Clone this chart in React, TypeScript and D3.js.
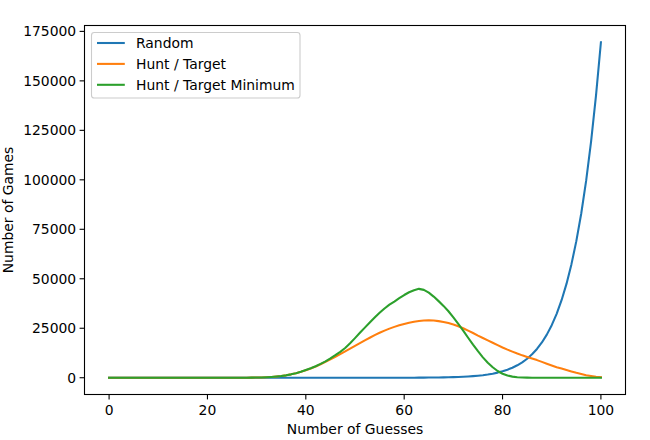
import React from "react";
import * as d3 from "d3";

const guesses: number[] = Array.from({ length: 101 }, (_, i) => i);

const randomGames: number[] = [
  0, 0, 0, 0, 0, 0, 0, 0, 0, 0,
  0, 0, 0, 0, 0, 0, 0, 0, 0, 0,
  0, 0, 0, 0, 0, 0, 0, 0, 0, 0,
  0, 0, 0, 0, 0, 0, 0, 0, 0, 0,
  0, 0, 0, 0, 0, 0, 0, 0, 0, 0,
  1, 1, 1, 2, 2, 3, 4, 6, 8, 11,
  16, 22, 30, 41, 55, 74, 98, 129, 169, 221,
  288, 373, 481, 619, 793, 1012, 1286, 1629, 2056, 2586,
  3243, 4053, 5051, 6276, 7775, 9605, 11832, 14536, 17812, 21770,
  26541, 32280, 39166, 47412, 57264, 69010, 82987, 99584, 119255, 142525,
  169500,
];

const huntTarget: number[] = [
  0, 0, 0, 0, 0, 0, 0, 0, 0, 0,
  0, 0, 0, 0, 0, 0, 0, 0, 0, 0,
  0, 0, 0, 0, 0, 0, 5, 10, 30, 60,
  100, 150, 250, 400, 600, 850, 1200, 1700, 2300, 3000,
  3800, 4700, 5700, 6800, 8000, 9300, 10600, 11900, 13300, 14700,
  16100, 17500, 18900, 20200, 21500, 22700, 23800, 24800, 25700, 26500,
  27200, 27800, 28300, 28700, 28900, 29000, 28900, 28600, 28200, 27600,
  26900, 26000, 25000, 23800, 22600, 21300, 20100, 18900, 17700, 16500,
  15300, 14200, 13200, 12200, 11300, 10500, 9700, 8900, 8000, 7100,
  6200, 5300, 4600, 3900, 3200, 2500, 1900, 1300, 900, 500,
  250,
];

const huntTargetMin: number[] = [
  0, 0, 0, 0, 0, 0, 0, 0, 0, 0,
  0, 0, 0, 0, 0, 0, 0, 0, 0, 0,
  0, 0, 0, 0, 0, 0, 5, 10, 30, 60,
  100, 150, 250, 400, 600, 850, 1200, 1700, 2300, 3000,
  3900, 4800, 5800, 7000, 8300, 9800, 11400, 13100, 15000, 17400,
  20000, 22700, 25300, 27900, 30400, 32800, 35000, 36900, 38500, 40200,
  41800, 43200, 44200, 44900, 44400, 43000, 41000, 38700, 36300, 33600,
  30500, 27200, 23800, 20200, 16700, 13400, 10300, 7600, 5300, 3400,
  2000, 1100, 550, 250, 100, 50, 20, 10, 5, 0,
  0, 0, 0, 0, 0, 0, 0, 0, 0, 0,
  0,
];

const seriesNames: string[] = ["Random", "Hunt / Target", "Hunt / Target Minimum"];
const seriesColors: string[] = ["#1f77b4", "#ff7f0e", "#2ca02c"];
const xTicks: number[] = [0, 20, 40, 60, 80, 100];
const yTicks: number[] = [0, 25000, 50000, 75000, 100000, 125000, 150000, 175000];

const W = 650;
const H = 440;
const L = 84.5;
const R = 625.5;
const T = 25.5;
const B = 394.5;
const FONT = "'DejaVu Sans', sans-serif";

export default function App() {
  const x = d3.scaleLinear().domain([-5, 105]).range([L, R]);
  const y = d3.scaleLinear().domain([-8475, 177975]).range([B, T]);
  const allSeries = [randomGames, huntTarget, huntTargetMin];
  const line = d3
    .line<number>()
    .x((_, i) => x(guesses[i]))
    .y((d) => y(d));

  return (
    <svg
      width={W}
      height={H}
      style={{ position: "absolute", left: 0, top: 0, background: "#fff" }}
      fontFamily={FONT}
    >
      <rect x={0} y={0} width={W} height={H} fill="#fff" />
      <defs>
        <clipPath id="plotclip">
          <rect x={L} y={T} width={R - L} height={B - T} />
        </clipPath>
      </defs>
      <g clipPath="url(#plotclip)">
        {allSeries.map((s, k) => (
          <path
            key={k}
            d={line(s) || ""}
            fill="none"
            stroke={seriesColors[k]}
            strokeWidth={2.08}
            strokeLinejoin="round"
            strokeLinecap="square"
          />
        ))}
      </g>
      <rect x={L} y={T} width={R - L} height={B - T} fill="none" stroke="#000" strokeWidth={1.1} />
      {xTicks.map((t) => (
        <g key={"x" + t}>
          <line x1={x(t)} x2={x(t)} y1={B} y2={B + 4.9} stroke="#000" strokeWidth={1.1} />
          <text x={x(t)} y={B + 20.5} textAnchor="middle" fontSize={13.9} fill="#000">
            {t}
          </text>
        </g>
      ))}
      {yTicks.map((t) => (
        <g key={"y" + t}>
          <line x1={L - 4.9} x2={L} y1={y(t)} y2={y(t)} stroke="#000" strokeWidth={1.1} />
          <text x={L - 8.3} y={y(t) + 5} textAnchor="end" fontSize={13.9} fill="#000">
            {t}
          </text>
        </g>
      ))}
      <text x={(L + R) / 2} y={434} textAnchor="middle" fontSize={13.9} fill="#000">
        Number of Guesses
      </text>
      <text
        transform={`translate(13, ${(T + B) / 2}) rotate(-90)`}
        textAnchor="middle"
        fontSize={13.9}
        fill="#000"
      >
        Number of Games
      </text>
      <g>
        <rect
          x={91.5}
          y={32.5}
          width={208.5}
          height={65.5}
          rx={2.8}
          fill="#fff"
          fillOpacity={0.8}
          stroke="#cccccc"
          strokeWidth={1.1}
        />
        {seriesNames.map((n, k) => (
          <g key={n}>
            <line
              x1={97}
              x2={124.8}
              y1={43 + k * 20.9}
              y2={43 + k * 20.9}
              stroke={seriesColors[k]}
              strokeWidth={2.08}
            />
            <text x={136} y={48 + k * 20.9} fontSize={13.9} fill="#000">
              {n}
            </text>
          </g>
        ))}
      </g>
    </svg>
  );
}
